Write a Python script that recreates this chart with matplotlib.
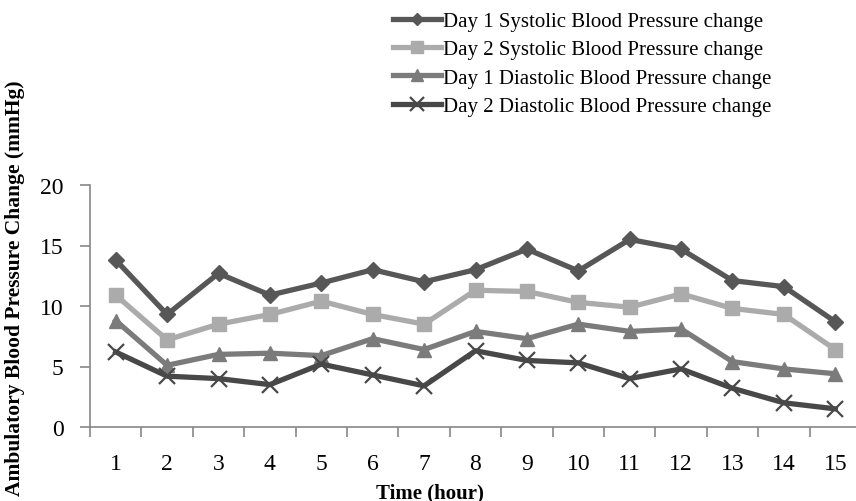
import matplotlib
matplotlib.use("Agg")
import matplotlib.pyplot as plt
from matplotlib.ticker import FixedLocator

plt.rcParams['font.family'] = ['Liberation Serif', 'DejaVu Serif']

hours = list(range(1, 16))
hour_labels = [str(h) for h in hours]
day1_sys = [13.8, 9.3, 12.7, 10.9, 11.9, 13.0, 12.0, 13.0, 14.7, 12.9, 15.5, 14.7, 12.1, 11.6, 8.7]
day2_sys = [10.9, 7.2, 8.5, 9.3, 10.4, 9.3, 8.5, 11.3, 11.2, 10.3, 9.9, 11.0, 9.8, 9.3, 6.4]
day1_dia = [8.8, 5.1, 6.0, 6.1, 5.9, 7.3, 6.4, 7.9, 7.3, 8.5, 7.9, 8.1, 5.4, 4.8, 4.4]
day2_dia = [6.2, 4.2, 4.0, 3.5, 5.2, 4.3, 3.4, 6.3, 5.5, 5.3, 4.0, 4.8, 3.2, 2.0, 1.5]
series_names = ["Day 1 Systolic Blood Pressure change",
                "Day 2 Systolic Blood Pressure change",
                "Day 1 Diastolic Blood Pressure change",
                "Day 2 Diastolic Blood Pressure change"]

W, H = 856, 502
fig = plt.figure(figsize=(W / 100, H / 100), dpi=100)
ax = fig.add_axes([90 / W, (H - 428) / H, (861 - 90) / W, (428 - 186) / H])

lw = 3.8
ax.plot(hours, day1_sys, color='#575757', lw=lw, marker='D', ms=8, label=series_names[0])
ax.plot(hours, day2_sys, color='#ababab', lw=lw, marker='s', ms=10, label=series_names[1])
ax.plot(hours, day1_dia, color='#7b7b7b', lw=lw, marker='^', ms=10, label=series_names[2])
ax.plot(hours, day2_dia, color='#484848', lw=lw, marker='x', ms=12, mew=1.6, label=series_names[3])

ax.set_xlim(0.5, 15.5)
ax.set_ylim(0, 20)
ax.set_yticks([0, 5, 10, 15, 20])
ax.set_xticks(hours)
ax.set_xticklabels(hour_labels)
ax.xaxis.set_minor_locator(FixedLocator([h + 0.5 for h in range(0, 16)]))
ax.tick_params(axis='x', which='major', length=0, pad=19, labelsize=17)
ax.tick_params(axis='x', which='minor', length=7, width=1.2, color='#888888', direction='out')
ax.tick_params(axis='y', length=7, width=1.2, color='#888888', direction='out', pad=12, labelsize=17)
for s in ['top', 'right']:
    ax.spines[s].set_visible(False)
for s in ['left', 'bottom']:
    ax.spines[s].set_color('#888888')
    ax.spines[s].set_linewidth(1.2)

fig.text(430 / W, 1 - 493 / H, "Time (hour)", ha='center', va='center',
         fontsize=15, fontweight='bold')
fig.text(15 / W, 1 - 288 / H, "Ambulatory Blood Pressure Change (mmHg)", rotation=90,
         ha='center', va='center', fontsize=15.5, fontweight='bold')

fig.legend(loc='upper left', bbox_to_anchor=(385 / W, 1 - 4 / H), frameon=False, fontsize=15,
           handlelength=2.3, handletextpad=0.1, labelspacing=0.42, borderaxespad=0,
           markerscale=0.8)

fig.savefig("out.png", dpi=100)
